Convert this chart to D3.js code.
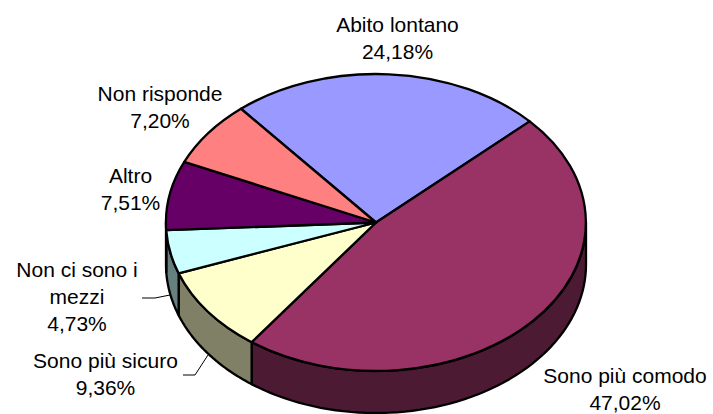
<!DOCTYPE html>
<html>
<head>
<meta charset="utf-8">
<script src="https://cdn.jsdelivr.net/npm/d3@7"></script>
<style>
  html, body { margin: 0; padding: 0; background: #fff; }
  svg { display: block; }
  text { font-family: "Liberation Sans", Arial, sans-serif; font-size: 21px; fill: #000; }
</style>
</head>
<body>
<svg id="chart" width="713" height="414"></svg>
<script>
// data, clockwise from the top left edge of "Abito lontano"
const categories = ["Abito lontano", "Sono più comodo", "Sono più sicuro", "Non ci sono i mezzi", "Altro", "Non risponde"];
const values = [24.18, 47.02, 9.36, 4.73, 7.51, 7.20];
const valueLabels = ["24,18%", "47,02%", "9,36%", "4,73%", "7,51%", "7,20%"];
const topColors = ["#9999ff", "#993366", "#ffffcc", "#ccffff", "#660066", "#ff8080"];
const sideColors = ["#4d4d80", "#4d1a33", "#808066", "#668080", "#330033", "#804040"];

const svg = d3.select("#chart");

// the pie is a flattened disc
const cx = 376, cy = 222.5, rx = 210, ry = 148.5, depth = 42;
const startAngle = -40 * Math.PI / 180;

const pie = d3.pie().sort(null).startAngle(startAngle).endAngle(startAngle + 2 * Math.PI);
const slices = pie(values);

// angle measured clockwise from the top, like d3.arc
const px = a => cx + rx * Math.sin(a);
const py = a => cy - ry * Math.cos(a);

// Rim: only the front half of the disc (90 to 270 degrees) can be seen
const rimPath = d3.line();
function rim(d) {
  const lo = Math.PI / 2, hi = 3 * Math.PI / 2;
  let a0 = d.startAngle, a1 = d.endAngle;
  if (a0 < 0) { a0 += 2 * Math.PI; a1 += 2 * Math.PI; }
  a0 = Math.max(a0, lo);
  a1 = Math.min(a1, hi);
  if (a1 <= a0) return null;
  const steps = d3.range(0, 61).map(i => a0 + (a1 - a0) * i / 60);
  const top = steps.map(a => [px(a), py(a)]);
  const bottom = steps.slice().reverse().map(a => [px(a), py(a) + depth]);
  return rimPath(top.concat(bottom)) + "Z";
}

svg.append("g").selectAll("path")
  .data(slices)
  .join("path")
    .attr("d", rim)
    .attr("fill", d => sideColors[d.index])
    .attr("stroke", "#000")
    .attr("stroke-width", 2.3)
    .attr("stroke-linejoin", "round");

// Top face, a unit pie squashed by a transform
const arc = d3.arc().innerRadius(0).outerRadius(1);
svg.append("g")
  .attr("transform", `translate(${cx},${cy}) scale(${rx},${ry})`)
  .selectAll("path")
  .data(slices)
  .join("path")
    .attr("d", arc)
    .attr("fill", d => topColors[d.index])
    .attr("stroke", "#000")
    .attr("stroke-width", 2.3)
    .attr("stroke-linejoin", "round")
    .attr("vector-effect", "non-scaling-stroke");

// Leader lines for the two small slices
const leaders = [
  [[142, 298], [155, 298], [170, 295]],
  [[183, 375], [195, 375], [208, 355]]
];
svg.append("g").selectAll("path")
  .data(leaders)
  .join("path")
    .attr("d", d3.line())
    .attr("fill", "none")
    .attr("stroke", "#000")
    .attr("stroke-width", 1);

// Labels, one text per line
const labelLines = [
  [categories[0], valueLabels[0]],
  [categories[1], valueLabels[1]],
  [categories[2], valueLabels[2]],
  ["Non ci sono i", "mezzi", valueLabels[3]],
  [categories[4], valueLabels[4]],
  [categories[5], valueLabels[5]]
];
const labelX = [397.5, 625, 105.5, 77, 130.5, 160];
const labelY = [31.5, 382.5, 368, 277, 183, 101];
const lineHeight = 27;

const labels = svg.append("g").selectAll("text")
  .data(labelLines)
  .join("text")
    .attr("text-anchor", "middle")
    .attr("x", (d, i) => labelX[i])
    .attr("y", (d, i) => labelY[i]);

labels.selectAll("tspan")
  .data((d, i) => d.map(t => ({ t, i })))
  .join("tspan")
    .attr("x", d => labelX[d.i])
    .attr("dy", (d, j) => j === 0 ? 0 : lineHeight)
    .text(d => d.t);
</script>
</body>
</html>
